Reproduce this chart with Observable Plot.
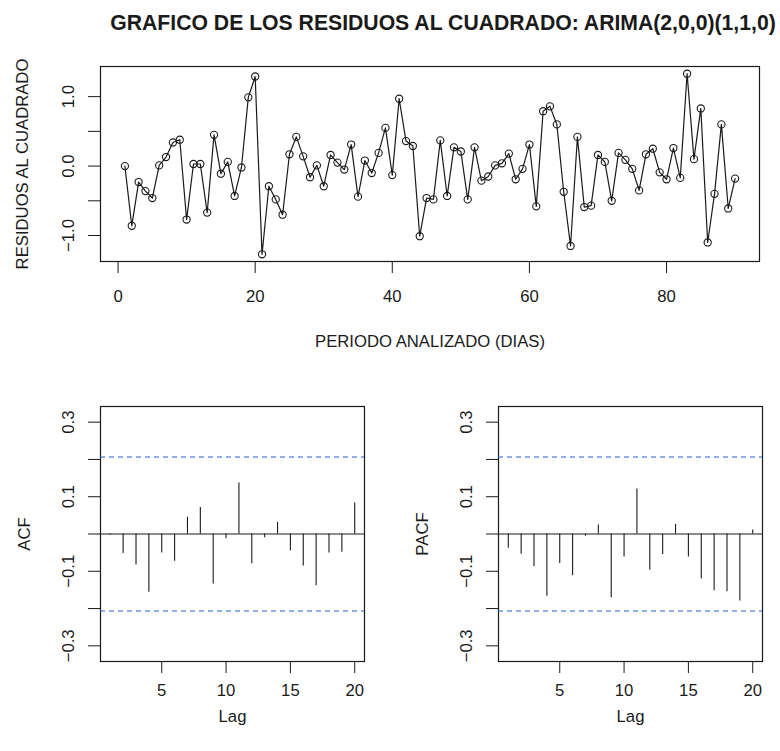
<!DOCTYPE html>
<html>
<head>
<meta charset="utf-8">
<script src="https://cdn.jsdelivr.net/npm/d3@7"></script>
<script src="https://cdn.jsdelivr.net/npm/@observablehq/plot@0.6"></script>
<style>
  html, body { margin: 0; padding: 0; background: #fff; }
  #fig { position: relative; width: 780px; height: 751px; overflow: hidden; }
  #fig svg { position: absolute; overflow: visible; }
</style>
</head>
<body>
<div id="fig"></div>
<script>
// Squared residuals of the ARIMA(2,0,0)(1,1,0) model, one per day
const residuals = [
  0.00, -0.86, -0.23, -0.36, -0.46, 0.01, 0.13, 0.34, 0.38, -0.77,
  0.03, 0.03, -0.67, 0.45, -0.11, 0.06, -0.43, -0.02, 0.99, 1.29,
  -1.27, -0.29, -0.48, -0.70, 0.17, 0.42, 0.14, -0.16, 0.01, -0.29,
  0.16, 0.05, -0.05, 0.31, -0.44, 0.08, -0.10, 0.19, 0.55, -0.13,
  0.97, 0.36, 0.29, -1.01, -0.46, -0.48, 0.37, -0.43, 0.27, 0.21,
  -0.48, 0.27, -0.21, -0.15, 0.01, 0.04, 0.18, -0.19, -0.04, 0.31,
  -0.58, 0.79, 0.86, 0.60, -0.37, -1.15, 0.42, -0.59, -0.57, 0.16,
  0.06, -0.50, 0.19, 0.09, -0.04, -0.35, 0.17, 0.25, -0.09, -0.19,
  0.26, -0.17, 1.33, 0.10, 0.83, -1.10, -0.40, 0.60, -0.61, -0.18
];
const days = residuals.map((_, i) => i + 1);

// Autocorrelations, lags 1 to 20
const lags = d3.range(1, 21);
const acfValues = [
  -0.003, -0.052, -0.083, -0.156, -0.051, -0.073, 0.045, 0.071, -0.134, -0.013,
  0.137, -0.080, -0.010, 0.031, -0.045, -0.086, -0.139, -0.051, -0.049, 0.083
];
const pacfValues = [
  -0.038, -0.054, -0.087, -0.167, -0.079, -0.112, -0.006, 0.024, -0.171, -0.062,
  0.121, -0.097, -0.055, 0.026, -0.062, -0.121, -0.152, -0.155, -0.180, 0.011
];
// 95% bound for white noise with n = 90
const ciBound = 1.96 / Math.sqrt(residuals.length);

// Axis ticks and labels
const seriesXTicks = [0, 20, 40, 60, 80];
const seriesYTicks = [-1, -0.5, 0, 0.5, 1];
const seriesYLabels = [-1, 0, 1];
const lagTicks = [5, 10, 15, 20];
const corrTicks = [-0.3, -0.2, -0.1, 0, 0.1, 0.2, 0.3];
const corrLabels = [-0.3, -0.1, 0.1, 0.3];

const titleText = "GRAFICO DE LOS RESIDUOS AL CUADRADO: ARIMA(2,0,0)(1,1,0)";
const seriesXLabel = "PERIODO ANALIZADO (DIAS)";
const seriesYLabel = "RESIDUOS AL CUADRADO";

const INK = "#1a1a1a";
const CI_BLUE = "#2f5fd0";
const FONT = "Liberation Sans, Arial, Helvetica, sans-serif";
const FS = 16.7;
const fmtMinus = (v, digits) => v.toFixed(digits).replace("-", "\u2212");

const fig = document.getElementById("fig");
function place(svg, left, topPx) {
  svg.style.left = left + "px";
  svg.style.top = topPx + "px";
  fig.appendChild(svg);
}

// Padded domain in the way R extends axis ranges by 4%
function padded(lo, hi) {
  const p = (hi - lo) * 0.04;
  return [lo - p, hi + p];
}

// Vertical text centred on its anchor
const vertical = { rotate: -90, textAnchor: "middle", lineAnchor: "middle", fill: INK, fontSize: FS };

// ---- Top panel: the residual series ----
const seriesPanel = Plot.plot({
  width: 780,
  height: 376,
  marginLeft: 100,
  marginRight: 21,
  marginTop: 66,
  marginBottom: 115,
  style: { fontFamily: FONT, fontSize: FS + "px", color: INK, background: "transparent" },
  x: { domain: padded(1, 90), ticks: seriesXTicks, tickSize: 12, tickFormat: () => "", label: null },
  y: { domain: padded(d3.min(residuals), d3.max(residuals)), ticks: seriesYTicks, tickSize: 12, tickFormat: () => "", label: null },
  marks: [
    Plot.frame({ stroke: INK, strokeWidth: 1.2 }),
    Plot.line(residuals, { x: (d, i) => days[i], y: d => d, stroke: INK, strokeWidth: 1.2 }),
    Plot.dot(residuals, { x: (d, i) => days[i], y: d => d, r: 3.6, stroke: INK, strokeWidth: 1.1, fill: "none" }),
    Plot.text(seriesYLabels, { ...vertical, y: d => d, frameAnchor: "left", dx: -32, text: d => fmtMinus(d, 1) }),
    Plot.text(seriesXTicks, { x: d => d, frameAnchor: "bottom", dy: 40, text: d => String(d), fill: INK, fontSize: FS }),
    Plot.text([seriesXLabel], { frameAnchor: "bottom", dy: 85, text: d => d, fill: INK, fontSize: FS }),
    Plot.text([seriesYLabel], { ...vertical, frameAnchor: "left", dx: -78, text: d => d }),
    Plot.text([titleText], { frameAnchor: "top", dy: -52, dx: 13, text: d => d, fill: INK, fontSize: 21.2, fontWeight: "bold" })
  ]
});
place(seriesPanel, 0, 0);

// ---- Bottom panels: ACF and PACF ----
const corrDomain = [-0.342, 0.342];
function corrPanel(values, name, marginLeft, marginRight) {
  return Plot.plot({
    width: 390,
    height: 375,
    marginLeft,
    marginRight,
    marginTop: 30,
    marginBottom: 90,
    style: { fontFamily: FONT, fontSize: FS + "px", color: INK, background: "transparent" },
    x: { domain: padded(1, 20), ticks: lagTicks, tickSize: 12, tickFormat: () => "", label: null },
    y: { domain: corrDomain, ticks: corrTicks, tickSize: 12, tickFormat: () => "", label: null },
    marks: [
      Plot.frame({ stroke: INK, strokeWidth: 1.2 }),
      Plot.ruleY([0], { stroke: INK, strokeWidth: 1.1 }),
      Plot.ruleY([ciBound, -ciBound], { stroke: CI_BLUE, strokeWidth: 1.1, strokeDasharray: "5,4" }),
      Plot.ruleX(values, { x: (d, i) => lags[i], y1: 0, y2: d => d, stroke: INK, strokeWidth: 1.1 }),
      Plot.text(corrLabels, { ...vertical, y: d => d, frameAnchor: "left", dx: -32, text: d => fmtMinus(d, 1) }),
      Plot.text(lagTicks, { x: d => d, frameAnchor: "bottom", dy: 34, text: d => String(d), fill: INK, fontSize: FS }),
      Plot.text(["Lag"], { frameAnchor: "bottom", dy: 60, text: d => d, fill: INK, fontSize: FS }),
      Plot.text([name], { ...vertical, frameAnchor: "left", dx: -76, text: d => d })
    ]
  });
}
place(corrPanel(acfValues, "ACF", 100, 26), 0, 376);
place(corrPanel(pacfValues, "PACF", 108, 18), 390, 376);
</script>
</body>
</html>
